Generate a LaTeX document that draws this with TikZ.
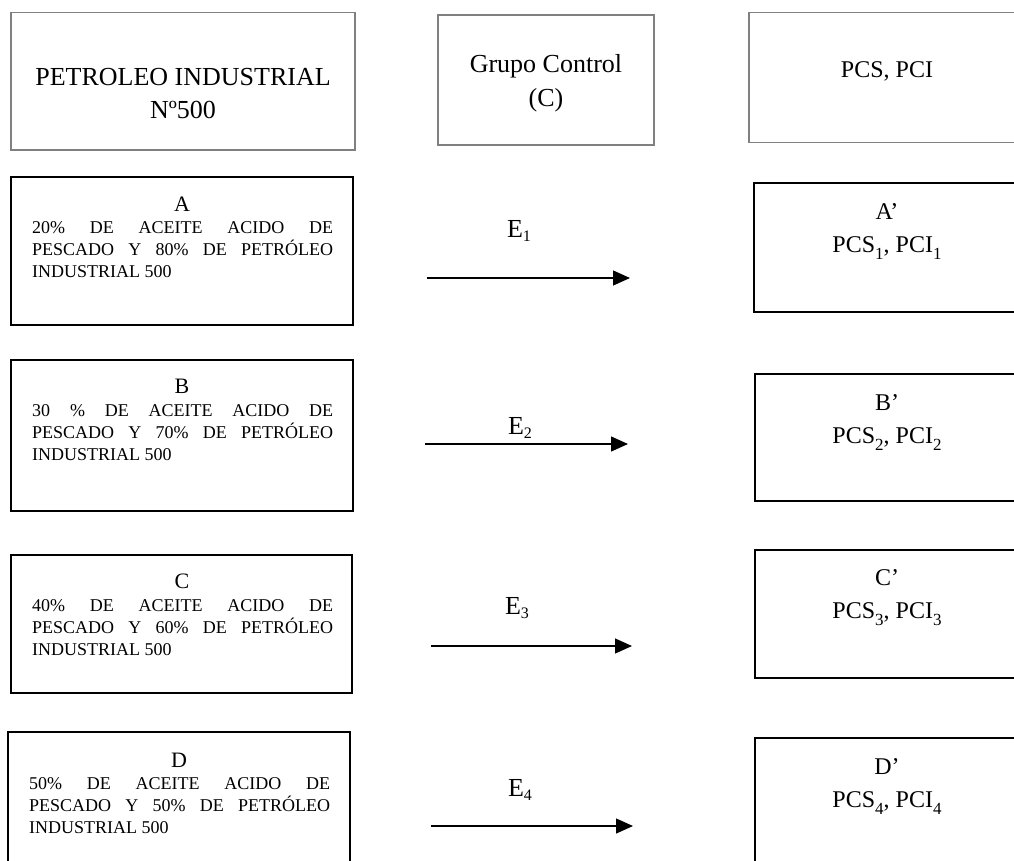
\documentclass[tikz,border=0pt]{standalone}
\usepackage{fontspec}
\setmainfont{Liberation Serif}
\usetikzlibrary{arrows.meta,fit}
\definecolor{boxgray}{RGB}{128,128,128}
\newcommand{\lowsub}[1]{\raisebox{-0.28em}{\fontsize{17}{17}\selectfont #1}}
\newcommand{\esub}[1]{\raisebox{-0.12em}{\fontsize{16}{16}\selectfont #1}}
\newcommand{\mixtext}[2]{\tolerance=10000\hbadness=10000\hyphenpenalty=10000\noindent #1\% DE ACEITE ACIDO DE\linebreak PESCADO Y #2\% DE PETRÓLEO\linebreak INDUSTRIAL 500}
\begin{document}
\begin{tikzpicture}[x=1pt,y=-1pt,
  graybox/.style={draw=boxgray, line width=1.6pt, inner sep=0pt},
  blackbox/.style={draw=black, line width=1.6pt, inner sep=0pt},
  toptext/.style={font=\fontsize{26}{33}\selectfont, align=center, inner sep=0pt},
  pcstext/.style={font=\fontsize{24}{28}\selectfont, inner sep=0pt},
  lettertext/.style={font=\fontsize{22}{26}\selectfont, inner sep=0pt},
  paratext/.style={font=\fontsize{18}{22}\selectfont, text width=301pt, align=justify, inner sep=0pt, anchor=north west},
  elabel/.style={font=\fontsize{26}{30}\selectfont, inner sep=0pt},
  flowarrow/.style={line width=1.2pt, -{Triangle[length=17pt,width=15pt]}}]
\useasboundingbox (0,0) rectangle (1014,860);

% top row
\node[graybox, fit={(11,12.5) (355,150)}] (top1) {};
\node[graybox, fit={(438,15) (654,145)}] (top2) {};
\node[graybox, fit={(749,12.5) (1025,142.5)}] (top3) {};
\node[toptext] (t1) at (183,94) {PETROLEO INDUSTRIAL\\Nº500};
\node[toptext, font=\fontsize{26}{34}\selectfont] (t2) at (546,83) {Grupo Control\\(C)};
\node[pcstext] (t3) at (887,71) {PCS, PCI};

% left boxes
\node[blackbox, fit={(11,177) (353,325)}] (boxA) {};
\node[blackbox, fit={(11,360) (353,511)}] (boxB) {};
\node[blackbox, fit={(11,555) (352,693)}] (boxC) {};
\node[blackbox, fit={(8,732) (350,880)}] (boxD) {};

\node[lettertext] (lA) at (182,204) {A};
\node[paratext] (pA) at (32,221) {\mixtext{20}{80}};
\node[lettertext] (lB) at (182,386) {B};
\node[paratext] (pB) at (32,404) {\tolerance=10000\hbadness=10000\hyphenpenalty=10000\noindent 30 \% DE ACEITE ACIDO DE\linebreak PESCADO Y 70\% DE PETRÓLEO\linebreak INDUSTRIAL 500};
\node[lettertext] (lC) at (182,581) {C};
\node[paratext] (pC) at (32,599) {\mixtext{40}{60}};
\node[lettertext] (lD) at (179,760) {D};
\node[paratext] (pD) at (29,777) {\mixtext{50}{50}};

% right boxes
\node[blackbox, fit={(754,183) (1025,312)}] (boxA2) {};
\node[blackbox, fit={(755,374) (1025,501)}] (boxB2) {};
\node[blackbox, fit={(755,550) (1025,678)}] (boxC2) {};
\node[blackbox, fit={(755,738) (1025,880)}] (boxD2) {};

\node[pcstext] (rA1) at (887,212) {A’};
\node[pcstext] (rA2) at (887,248) {PCS\lowsub{1}, PCI\lowsub{1}};
\node[pcstext] (rB1) at (887,403) {B’};
\node[pcstext] (rB2) at (887,439) {PCS\lowsub{2}, PCI\lowsub{2}};
\node[pcstext] (rC1) at (887,578) {C’};
\node[pcstext] (rC2) at (887,614) {PCS\lowsub{3}, PCI\lowsub{3}};
\node[pcstext] (rD1) at (887,767) {D’};
\node[pcstext] (rD2) at (887,803) {PCS\lowsub{4}, PCI\lowsub{4}};

% arrows
\coordinate (a1s) at (427,278); \coordinate (a1e) at (630,278);
\coordinate (a2s) at (425,444); \coordinate (a2e) at (628,444);
\coordinate (a3s) at (431,646); \coordinate (a3e) at (632,646);
\coordinate (a4s) at (431,826); \coordinate (a4e) at (633,826);
\draw[flowarrow] (a1s) -- (a1e);
\draw[flowarrow] (a2s) -- (a2e);
\draw[flowarrow] (a3s) -- (a3e);
\draw[flowarrow] (a4s) -- (a4e);

\node[elabel] (e1) at (519,231) {E\esub{1}};
\node[elabel] (e2) at (520,428) {E\esub{2}};
\node[elabel] (e3) at (517,608) {E\esub{3}};
\node[elabel] (e4) at (520,790) {E\esub{4}};
\end{tikzpicture}
\end{document}
